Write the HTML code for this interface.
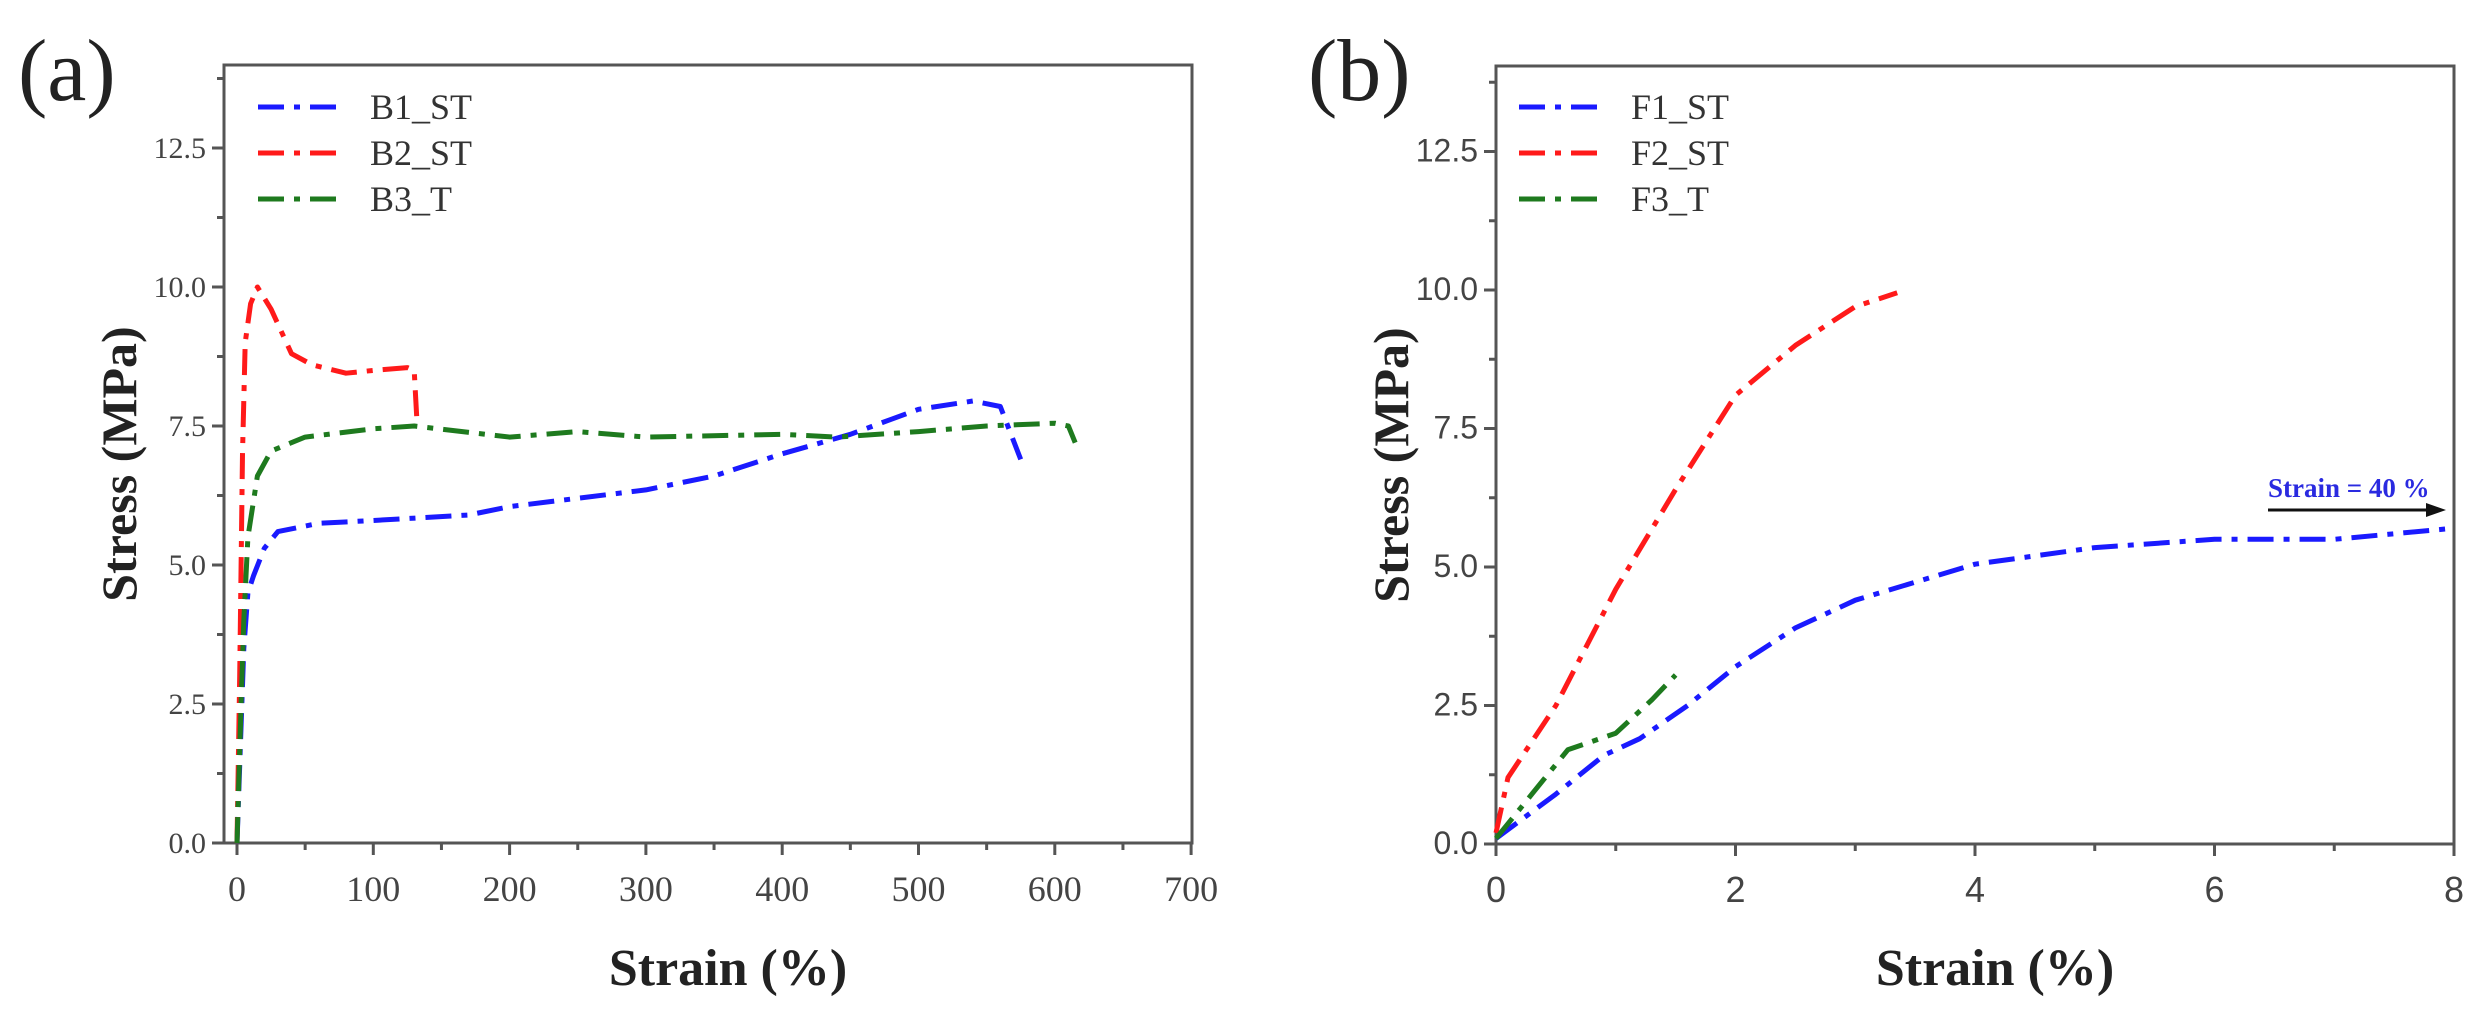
<!DOCTYPE html>
<html><head><meta charset="utf-8"><style>
html,body{margin:0;padding:0;background:#fff;}
svg{display:block;}
</style></head><body>
<svg id="s" width="2481" height="1019" xmlns="http://www.w3.org/2000/svg">
<rect width="2481" height="1019" fill="#fff"/>
<g font-family="Liberation Serif, serif">
<text x="18" y="100" font-size="88" fill="#222">(a)</text>
<text x="1308" y="100" font-size="88" fill="#222">(b)</text>
</g>
<g id="g"></g>
</svg>
<script>
const NS="http://www.w3.org/2000/svg";
const g=document.getElementById('g');
function el(t,a,txt){const e=document.createElementNS(NS,t);for(const k in a)e.setAttribute(k,a[k]);if(txt!==undefined)e.textContent=txt;g.appendChild(e);return e;}
function panel(o){
  const X=v=>o.x0+v*o.sx, Y=v=>o.y0-v*o.sy;
  // frame
  el('rect',{x:o.L,y:o.T,width:o.R-o.L,height:o.y0-o.T,fill:'none',stroke:'#555','stroke-width':3});
  // y ticks
  for(let v=0;v<=14.01;v+=1.25){const y=Y(v);const maj=Math.abs(v/2.5-Math.round(v/2.5))<1e-6;
    el('line',{x1:o.L,x2:o.L-(maj?12:7),y1:y,y2:y,stroke:'#555','stroke-width':3});
    if(maj)el('text',{x:o.L-18,y:y+10,'font-size':o.yfs,'text-anchor':'end',fill:'#444','font-family':o.tf},v.toFixed(1));}
  for(let i=0;i<=o.xn*2;i++){const v=i*o.xs/2;const x=X(v);if(x>o.R+1)break;const maj=i%2==0;
    el('line',{x1:x,x2:x,y1:o.y0,y2:o.y0+(maj?12:7),stroke:'#555','stroke-width':3});
    if(maj)el('text',{x:x,y:o.y0+58,'font-size':o.xfs,'text-anchor':'middle',fill:'#444','font-family':o.tf},String(v));}
  el('text',{x:0,y:0,transform:`translate(${o.L-88},${(o.T+o.y0)/2+10}) rotate(-90)`,'font-size':50,'font-weight':'bold','text-anchor':'middle','font-family':'Liberation Serif, serif',fill:'#222'},'Stress (MPa)');
  el('text',{x:(o.L+o.R)/2+20,y:985,'font-size':52,'font-weight':'bold','text-anchor':'middle','font-family':'Liberation Serif, serif',fill:'#222'},'Strain (%)');
  o.series.forEach((s,i)=>{
    const d=s.p.map((p,j)=>(j?'L':'M')+X(p[0]).toFixed(1)+','+Y(p[1]).toFixed(1)).join(' ');
    el('path',{d:d,fill:'none',stroke:s.c,'stroke-width':5,'stroke-dasharray':'26 10 6 10','stroke-linejoin':'round'});
    const ly=107+i*46;
    el('line',{x1:o.lx,x2:o.lx+86,y1:ly,y2:ly,stroke:s.c,'stroke-width':5,'stroke-dasharray':'26 10 6 10'});
    el('text',{x:o.lx+112,y:ly+12,'font-size':36,fill:'#333','font-family':'Liberation Serif, serif'},s.n);
  });
}
panel({L:224,R:1192,T:65,y0:843,x0:237,sx:1.363,sy:55.6,xs:100,xn:7,yfs:30,xfs:36,tf:'Liberation Serif, serif',lx:258,
series:[
{n:'B1_ST',c:'#1a1aff',p:[[0,0],[5,3.5],[8,4.5],[12,4.8],[20,5.3],[30,5.6],[60,5.75],[100,5.8],[170,5.9],[200,6.05],[300,6.35],[350,6.6],[400,7.0],[450,7.35],[500,7.8],[540,7.95],[560,7.85],[575,6.9]]},
{n:'B2_ST',c:'#ff1a1a',p:[[0,0],[2,3],[4,7],[6,9],[10,9.7],[15,10],[25,9.6],[40,8.8],[55,8.6],[80,8.45],[100,8.5],[125,8.55],[130,8.5],[132,7.6]]},
{n:'B3_T',c:'#1e7a1e',p:[[0,0],[3,2.5],[5,4],[8,5.5],[15,6.6],[25,7.05],[50,7.3],[100,7.45],[130,7.5],[200,7.3],[250,7.4],[300,7.3],[400,7.35],[440,7.3],[500,7.4],[550,7.5],[600,7.55],[610,7.5],[615,7.2]]}
]});
panel({L:1496,R:2454,T:66,y0:844,x0:1496,sx:119.75,sy:55.4,xs:2,xn:4,yfs:32,xfs:36,tf:'Liberation Sans, sans-serif',lx:1519,
series:[
{n:'F1_ST',c:'#1a1aff',p:[[0,0.1],[0.5,0.9],[0.9,1.6],[1.2,1.9],[1.6,2.5],[2,3.2],[2.5,3.9],[3,4.4],[4,5.05],[5,5.35],[6,5.5],[7,5.5],[8,5.7]]},
{n:'F2_ST',c:'#ff1a1a',p:[[0,0.2],[0.1,1.2],[0.5,2.5],[1,4.6],[1.5,6.4],[2,8.1],[2.5,9],[3,9.7],[3.35,9.95]]},
{n:'F3_T',c:'#1e7a1e',p:[[0,0.1],[0.3,0.9],[0.6,1.7],[1,2],[1.3,2.6],[1.5,3.05]]}
]});
el('text',{x:2268,y:497,'font-size':27,'font-weight':'bold',fill:'#2a2ae0','font-family':'Liberation Serif, serif'},'Strain = 40 %');
el('line',{x1:2268,x2:2430,y1:510,y2:510,stroke:'#111','stroke-width':3});
el('path',{d:'M2446,510 L2426,503 L2426,517 Z',fill:'#111'});
</script>
</body></html>
